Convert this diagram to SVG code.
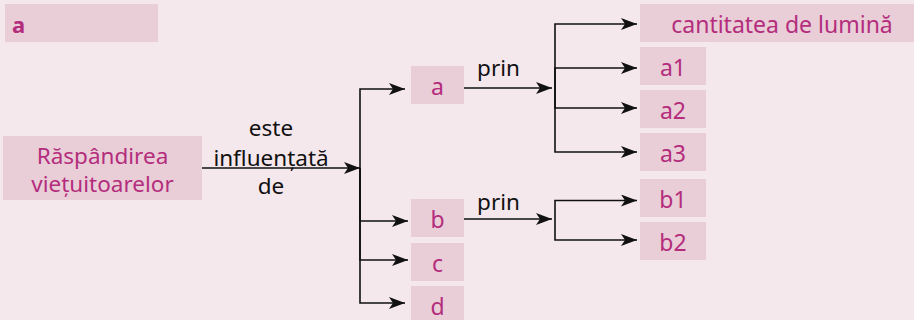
<svg xmlns="http://www.w3.org/2000/svg" width="914" height="320" viewBox="0 0 914 320">
<defs>
<style>
.box{fill:#e9cdd7;}
.t{font-family:"Noto Sans","Open Sans","Liberation Sans",sans-serif;font-size:23px;fill:#b42d7d;text-anchor:middle;}
.m{font-size:22.5px;}
.k{font-family:"Noto Sans","Open Sans","Liberation Sans",sans-serif;font-size:22.5px;fill:#111;text-anchor:middle;}
.e{fill:none;stroke:#111;stroke-width:1.6;marker-end:url(#arr);}
</style>
<marker id="arr" viewBox="0 0 16 12" refX="16" refY="6" markerWidth="16" markerHeight="12" markerUnits="userSpaceOnUse" orient="auto">
<path d="M0,0 L16,6 L0,12 L4,6 Z" fill="#111"/>
</marker>
</defs>
<rect width="914" height="320" fill="#f4e8ed"/>
<g id="connectors">
<path class="e" d="M202,168 H360"/>
<path class="e" d="M360,168 V89 H405"/>
<path class="e" d="M360,168 V221 H408"/>
<path class="e" d="M360,168 V260 H408"/>
<path class="e" d="M360,168 V303 H405"/>
<path class="e" d="M464,88 H552"/>
<path class="e" d="M555,88 V24 H637"/>
<path class="e" d="M555,88 V68 H637"/>
<path class="e" d="M555,88 V108 H637"/>
<path class="e" d="M555,88 V152 H637"/>
<path class="e" d="M464,219 H552"/>
<path class="e" d="M555,219 V200.5 H637"/>
<path class="e" d="M555,219 V240 H637"/>
<text class="k" x="271" y="136">este</text>
<text class="k" x="271" y="165.5">influențată</text>
<text class="k" x="271" y="194">de</text>
<text class="k" x="498.5" y="76">prin</text>
<text class="k" x="498.5" y="209.5">prin</text>
</g>
<g id="label-a">
<rect class="box" x="5" y="4" width="153" height="38"/>
<text x="12" y="32.5" style="font-family:'Noto Sans','Open Sans',sans-serif;font-size:22px;font-weight:bold;fill:#b42d7d;">a</text>
</g>
<g id="node-main">
<rect class="box" x="3" y="136" width="199" height="64"/>
<text class="t m" x="102.5" y="163.5">Răspândirea</text>
<text class="t m" x="102.5" y="191.5">viețuitoarelor</text>
</g>
<g id="node-a"><rect class="box" x="411" y="66" width="53" height="38"/><text class="t" x="437.5" y="94.5">a</text></g>
<g id="node-b"><rect class="box" x="411" y="199" width="53" height="38"/><text class="t" x="437.5" y="227.5">b</text></g>
<g id="node-c"><rect class="box" x="411" y="243" width="53" height="38"/><text class="t" x="437.5" y="271.5">c</text></g>
<g id="node-d"><rect class="box" x="411" y="286" width="53" height="38"/><text class="t" x="437.5" y="314.5">d</text></g>
<g id="node-lumina"><rect class="box" x="640" y="4" width="274" height="38"/><text class="t" x="782" y="32.5">cantitatea de lumină</text></g>
<g id="node-a1"><rect class="box" x="640" y="47" width="66" height="38"/><text class="t" x="673" y="75.5">a1</text></g>
<g id="node-a2"><rect class="box" x="640" y="90" width="66" height="38"/><text class="t" x="673" y="118.5">a2</text></g>
<g id="node-a3"><rect class="box" x="640" y="133" width="66" height="38"/><text class="t" x="673" y="161.5">a3</text></g>
<g id="node-b1"><rect class="box" x="640" y="179" width="66" height="38"/><text class="t" x="673" y="207.5">b1</text></g>
<g id="node-b2"><rect class="box" x="640" y="222" width="66" height="38"/><text class="t" x="673" y="250.5">b2</text></g>
</svg>
